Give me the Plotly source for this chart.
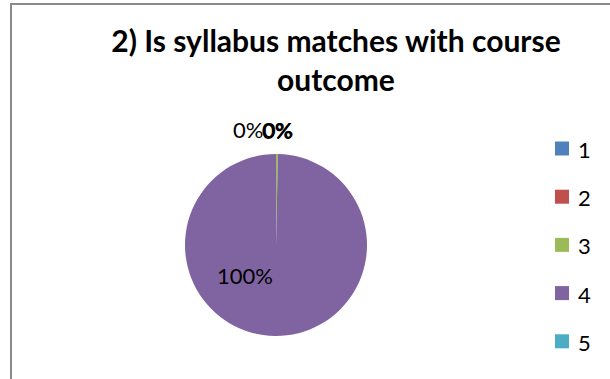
import plotly.graph_objects as go

# survey answers for question 2
categories = ["1", "2", "3", "4", "5"]
counts = [0, 0, 1, 299, 0]
colors = ["#4F81BD", "#C0504D", "#9BBB59", "#8064A2", "#4BACC6"]
title_text = "2) Is syllabus matches with course<br>outcome"

W, H = 610, 379
total = sum(counts)
pct = [f"{c / total:.0%}" for c in counts]


def px(x):
    return x / W


def py(y):
    return 1 - y / H


fig = go.Figure()
fig.add_trace(
    go.Pie(
        labels=categories,
        values=counts,
        sort=False,
        direction="clockwise",
        rotation=0,
        marker=dict(colors=colors, line=dict(width=0)),
        textinfo="none",
        hoverinfo="label+percent",
        showlegend=False,
        domain=dict(x=[px(185), px(367)], y=[py(336), py(154)]),
    )
)

font = dict(family="Lato, Open Sans, sans-serif", size=22, color="#000000")
annotations = []

# data labels (Excel piles the zero slices up near the top)
label_pos = {0: (277, 130), 1: (277.8, 130), 2: (248, 130), 3: (245, 275), 4: (277, 130.5)}
for i, (x, y) in label_pos.items():
    annotations.append(dict(
        x=px(x), y=py(y), xref="paper", yref="paper", text=pct[i],
        showarrow=False, font=font, xanchor="center", yanchor="middle",
    ))

# manual legend
shapes = []
for i, cat in enumerate(categories):
    yc = 148.5 + i * 48.2
    shapes.append(dict(
        type="rect", xref="paper", yref="paper",
        x0=px(555), x1=px(569), y0=py(yc + 7), y1=py(yc - 7),
        fillcolor=colors[i], line=dict(width=0),
    ))
    annotations.append(dict(
        x=px(576), y=py(yc + 1), xref="paper", yref="paper", text=cat,
        showarrow=False, font=font, xanchor="left", yanchor="middle",
    ))

# chart area border (cropped on right/bottom)
shapes.append(dict(
    type="rect", xref="paper", yref="paper",
    x0=px(11), x1=px(W + 20), y0=py(H + 20), y1=py(4),
    line=dict(color="#8A8A8A", width=2), fillcolor="rgba(0,0,0,0)",
))

fig.update_layout(
    width=W, height=H,
    margin=dict(l=0, r=0, t=0, b=0),
    paper_bgcolor="white",
    plot_bgcolor="white",
    title=dict(
        text=title_text,
        x=px(336), xanchor="center",
        y=py(52), yanchor="middle",
        font=dict(family="Lato, Open Sans, sans-serif", size=30, color="#000000", weight="bold"),
    ),
    annotations=annotations,
    shapes=shapes,
)

fig.write_html(
    "out.html",
    config={"displayModeBar": False},
    post_script="document.body.style.margin='0';document.body.style.overflow='hidden';",
)
